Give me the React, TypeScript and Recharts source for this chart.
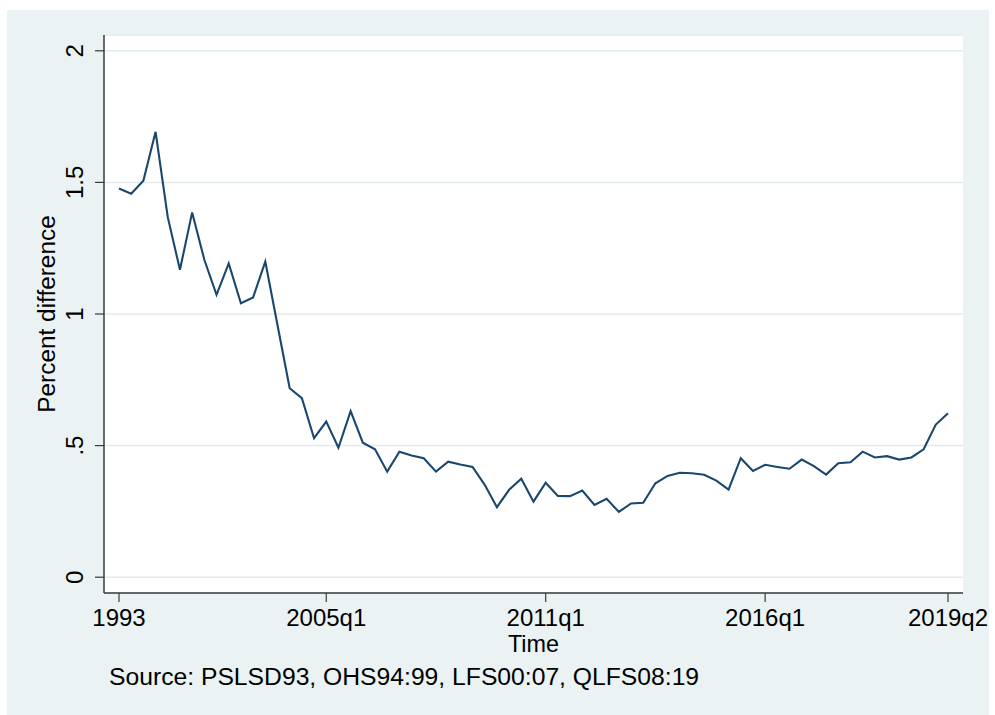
import React from 'react';
import { LineChart, Line, XAxis, YAxis, CartesianGrid } from 'recharts';

// survey periods (one observation each)
const ohsYears = ['1993', '1994', '1995', '1996', '1997', '1998', '1999'];
const lfsRounds = [
  '2000s1', '2000s2', '2001s1', '2001s2', '2002s1', '2002s2', '2003s1', '2003s2',
  '2004s1', '2004s2', '2005s1', '2005s2', '2006s1', '2006s2', '2007s1', '2007s2',
];
const qlfsQuarters = [
  '2008q1', '2008q2', '2008q3', '2008q4', '2009q1', '2009q2', '2009q3', '2009q4',
  '2010q1', '2010q2', '2010q3', '2010q4', '2011q1', '2011q2', '2011q3', '2011q4',
  '2012q1', '2012q2', '2012q3', '2012q4', '2013q1', '2013q2', '2013q3', '2013q4',
  '2014q1', '2014q2', '2014q3', '2014q4', '2015q1', '2015q2', '2015q3', '2015q4',
  '2016q1', '2016q2', '2016q3', '2016q4', '2017q1', '2017q2', '2017q3', '2017q4',
  '2018q1', '2018q2', '2018q3', '2018q4', '2019q1', '2019q2',
];

// percent difference
const ohsValues = [1.477, 1.457, 1.506, 1.692, 1.368, 1.168, 1.386];
const lfsValues = [
  1.206, 1.073, 1.192, 1.041, 1.063, 1.199, 0.958, 0.718,
  0.68, 0.528, 0.591, 0.492, 0.631, 0.511, 0.486, 0.401,
];
const qlfsValues = [
  0.477, 0.462, 0.452, 0.401, 0.439, 0.428, 0.419, 0.351, 0.266, 0.332,
  0.374, 0.287, 0.359, 0.309, 0.308, 0.329, 0.275, 0.298, 0.248, 0.28,
  0.283, 0.357, 0.385, 0.397, 0.395, 0.389, 0.367, 0.333, 0.452, 0.404,
  0.427, 0.419, 0.412, 0.447, 0.422, 0.39, 0.433, 0.437, 0.477, 0.455,
  0.46, 0.447, 0.455, 0.486, 0.58, 0.623,
];

// x-axis labels sit at these observation numbers
const xTickPos = [0, 17, 35, 53, 68];
const xTickLabels = ['1993', '2005q1', '2011q1', '2016q1', '2019q2'];
const yTicks = [0, 0.5, 1, 1.5, 2];
const yTickLabels = ['0', '.5', '1', '1.5', '2'];

const periods = [...ohsYears, ...lfsRounds, ...qlfsQuarters];
const values = [...ohsValues, ...lfsValues, ...qlfsValues];
const data = periods.map((p, i) => ({ obs: i, period: p, value: values[i] }));

const FONT = '"Liberation Sans", Arial, Helvetica, sans-serif';
const BG = '#eaf2f3';

const YTick = (props: any) => {
  const { x, y, payload } = props;
  const bx = x - 10;
  const idx = yTicks.indexOf(payload.value);
  return (
    <text
      x={bx}
      y={y}
      transform={`rotate(-90, ${bx}, ${y})`}
      textAnchor="middle"
      fontSize={24}
      fontFamily={FONT}
      fill="#000"
    >
      {idx >= 0 ? yTickLabels[idx] : payload.value}
    </text>
  );
};

export default function App() {
  return (
    <div style={{ position: 'absolute', left: 0, top: 0, width: 995, height: 715, background: '#fff', fontFamily: FONT }}>
      <div style={{ position: 'absolute', left: 7, top: 10, width: 982, height: 705, background: BG }} />
      <div style={{ position: 'absolute', left: 0, top: 0 }}>
        <LineChart
          width={995}
          height={715}
          data={data}
          margin={{ top: 35, right: 32, bottom: 62, left: 44 }}
        >
          <CartesianGrid vertical={false} stroke="#e1eaed" strokeWidth={1.5} fill="#ffffff" fillOpacity={1} />
          <XAxis
            dataKey="obs"
            type="number"
            domain={[0, 68]}
            ticks={xTickPos}
            tickFormatter={(v: number) => xTickLabels[xTickPos.indexOf(v)] ?? ''}
            padding={{ left: 15, right: 15 }}
            height={60}
            tickSize={9}
            tickMargin={7}
            interval={0}
            axisLine={{ stroke: '#3a3a3a', strokeWidth: 1.5 }}
            tickLine={{ stroke: '#3a3a3a', strokeWidth: 1.2 }}
            tick={{ fontSize: 24, fontFamily: FONT, fill: '#000' }}
          />
          <YAxis
            type="number"
            domain={[-0.06, 2.06]}
            ticks={yTicks}
            allowDataOverflow
            width={60}
            tickSize={9}
            interval={0}
            axisLine={{ stroke: '#3a3a3a', strokeWidth: 1.5 }}
            tickLine={{ stroke: '#3a3a3a', strokeWidth: 1.2 }}
            tick={<YTick />}
          />
          <Line
            type="linear"
            dataKey="value"
            stroke="#1a476f"
            strokeWidth={2.1}
            dot={false}
            isAnimationActive={false}
          />
        </LineChart>
      </div>
      <div
        style={{
          position: 'absolute', left: 46.5, top: 314, fontSize: 24.4, lineHeight: 1,
          whiteSpace: 'nowrap', transform: 'translate(-50%, -50%) rotate(-90deg)',
        }}
      >
        Percent difference
      </div>
      <div
        style={{
          position: 'absolute', left: 533.5, top: 633, fontSize: 23.4, lineHeight: 1,
          whiteSpace: 'nowrap', transform: 'translateX(-50%)',
        }}
      >
        Time
      </div>
      <div style={{ position: 'absolute', left: 109, top: 665, fontSize: 24.7, lineHeight: 1, whiteSpace: 'nowrap' }}>
        Source: PSLSD93, OHS94:99, LFS00:07, QLFS08:19
      </div>
    </div>
  );
}
